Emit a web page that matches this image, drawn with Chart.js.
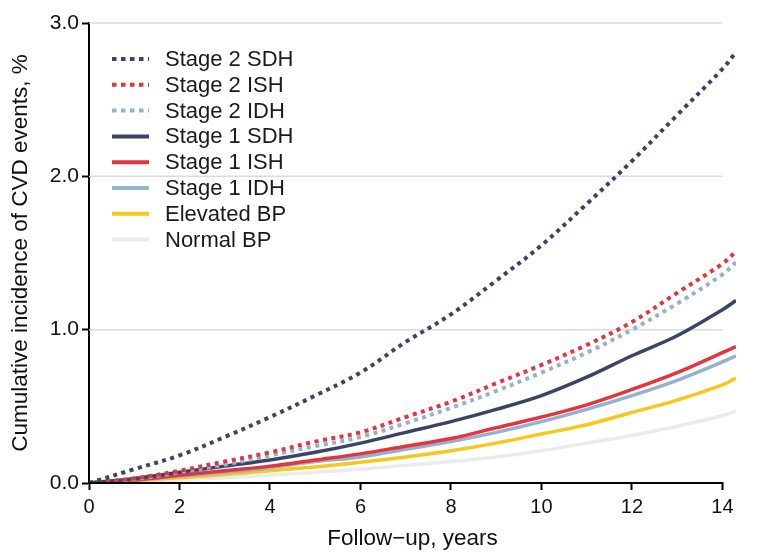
<!DOCTYPE html>
<html>
<head>
<meta charset="utf-8">
<script src="https://cdn.jsdelivr.net/npm/chart.js@4.4.0/dist/chart.umd.min.js"></script>
<style>
  html, body { margin: 0; padding: 0; background: #fff; }
  #wrap { width: 762px; height: 552px; }
</style>
</head>
<body>
<div id="wrap"><canvas id="chart-cvd" width="762" height="552"></canvas></div>
<script>
// follow-up years (last point runs a little past the 14-year tick)
const years = [0, 1, 2, 3, 4, 5, 6, 7, 8, 9, 10, 11, 12, 13, 14, 14.3];
const xTicks = [0, 2, 4, 6, 8, 10, 12, 14];
const yTicks = [0, 1, 2, 3];

const stage2SDH = [0, 0.09, 0.18, 0.3, 0.43, 0.57, 0.72, 0.92, 1.1, 1.32, 1.55, 1.82, 2.1, 2.4, 2.7, 2.81];
const stage2ISH = [0, 0.03, 0.08, 0.14, 0.2, 0.27, 0.33, 0.43, 0.53, 0.65, 0.77, 0.9, 1.05, 1.24, 1.43, 1.51];
const stage2IDH = [0, 0.025, 0.07, 0.12, 0.18, 0.24, 0.3, 0.39, 0.49, 0.6, 0.72, 0.85, 1.0, 1.17, 1.36, 1.44];
const stage1SDH = [0, 0.03, 0.07, 0.11, 0.15, 0.2, 0.26, 0.33, 0.4, 0.48, 0.57, 0.69, 0.83, 0.96, 1.13, 1.19];
const stage1ISH = [0, 0.02, 0.05, 0.08, 0.11, 0.15, 0.19, 0.24, 0.29, 0.36, 0.43, 0.51, 0.61, 0.72, 0.85, 0.89];
const stage1IDH = [0, 0.018, 0.045, 0.07, 0.1, 0.14, 0.17, 0.22, 0.27, 0.33, 0.4, 0.48, 0.57, 0.67, 0.79, 0.83];
const elevatedBP = [0, 0.015, 0.035, 0.055, 0.08, 0.105, 0.135, 0.17, 0.21, 0.26, 0.32, 0.38, 0.46, 0.54, 0.64, 0.685];
const normalBP = [0, 0.01, 0.02, 0.035, 0.05, 0.07, 0.09, 0.115, 0.14, 0.17, 0.21, 0.26, 0.31, 0.37, 0.44, 0.47];

const NAVY = '#3b4467';
const RED = '#e6343c';
const LIGHTBLUE = '#92b2d0';
const YELLOW = '#f6c81e';
const GRAY = '#ebebeb';
const FONT = '"Liberation Sans", Arial, sans-serif';

function series(label, values, color, dotted) {
  return {
    label: label,
    data: years.map((x, i) => ({ x: x, y: values[i] })),
    borderColor: color,
    backgroundColor: color,
    borderWidth: dotted ? 4 : 3.5,
    borderDash: dotted ? [4, 4.5] : [],
    borderCapStyle: 'butt',
    pointRadius: 0,
    tension: 0.35,
    dotted: dotted
  };
}

// gridlines and x axis line stop at the 14-year tick, curves run past it
const axisLines = {
  id: 'axisLines',
  beforeDatasetsDraw(chart) {
    const ctx = chart.ctx;
    const xs = chart.scales.x, ys = chart.scales.y;
    const x0 = xs.getPixelForValue(0), x14 = xs.getPixelForValue(14);
    ctx.save();
    ctx.strokeStyle = '#d9dbe2';
    ctx.lineWidth = 1.5;
    yTicks.slice(1).forEach(v => {
      const y = ys.getPixelForValue(v);
      ctx.beginPath();
      ctx.moveTo(x0, y);
      ctx.lineTo(x14, y);
      ctx.stroke();
    });
    ctx.restore();
  },
  afterDatasetsDraw(chart) {
    const ctx = chart.ctx;
    const xs = chart.scales.x, ys = chart.scales.y;
    const y0 = ys.getPixelForValue(0);
    ctx.save();
    ctx.strokeStyle = '#000';
    ctx.lineWidth = 2;
    ctx.beginPath();
    ctx.moveTo(xs.getPixelForValue(0) - 1, y0);
    ctx.lineTo(xs.getPixelForValue(14) + 1, y0);
    ctx.stroke();
    ctx.restore();
  }
};

// legend drawn inside the plot, top-left
const insideLegend = {
  id: 'insideLegend',
  afterDraw(chart) {
    const ctx = chart.ctx;
    const sets = chart.data.datasets;
    ctx.save();
    ctx.font = '22px ' + FONT;
    ctx.textBaseline = 'middle';
    sets.forEach((ds, i) => {
      const y = 59 + i * 25.8;
      ctx.beginPath();
      ctx.strokeStyle = ds.borderColor;
      ctx.lineWidth = 4;
      ctx.setLineDash(ds.dotted ? [4.5, 4.5] : []);
      ctx.moveTo(112, y);
      ctx.lineTo(149, y);
      ctx.stroke();
      ctx.setLineDash([]);
      ctx.fillStyle = '#1a1a1a';
      ctx.fillText(ds.label, 165, y + 1);
    });
    ctx.restore();
  }
};

const ctxCvd = document.getElementById('chart-cvd').getContext('2d');
new Chart(ctxCvd, {
  type: 'line',
  data: {
    datasets: [
      series('Stage 2 SDH', stage2SDH, NAVY, true),
      series('Stage 2 ISH', stage2ISH, RED, true),
      series('Stage 2 IDH', stage2IDH, LIGHTBLUE, true),
      series('Stage 1 SDH', stage1SDH, NAVY, false),
      series('Stage 1 ISH', stage1ISH, RED, false),
      series('Stage 1 IDH', stage1IDH, LIGHTBLUE, false),
      series('Elevated BP', elevatedBP, YELLOW, false),
      series('Normal BP', normalBP, GRAY, false)
    ]
  },
  options: {
    responsive: false,
    animation: false,
    layout: { padding: { left: 0, right: 26, top: 23, bottom: 0 } },
    plugins: {
      legend: { display: false },
      tooltip: { enabled: false }
    },
    scales: {
      x: {
        type: 'linear',
        min: 0,
        max: 14.3,
        afterFit: (scale) => { scale.height = 69; },
        afterBuildTicks: (scale) => { scale.ticks = xTicks.map(v => ({ value: v })); },
        border: { display: false },
        grid: { drawOnChartArea: false, tickColor: '#000', tickLength: 7, tickWidth: 2 },
        ticks: {
          color: '#111',
          padding: 5,
          maxRotation: 0,
          autoSkip: false,
          font: { family: FONT, size: 20 }
        },
        title: {
          display: true,
          text: 'Follow−up, years',
          color: '#111',
          padding: { top: 10, bottom: 0 },
          font: { family: FONT, size: 22.5 }
        }
      },
      y: {
        min: 0,
        max: 3,
        afterFit: (scale) => { scale.width = 89; },
        afterBuildTicks: (scale) => { scale.ticks = yTicks.map(v => ({ value: v })); },
        border: { color: '#000', width: 2 },
        grid: {
          drawOnChartArea: false,
          tickColor: '#000',
          tickLength: 7,
          tickWidth: 2
        },
        ticks: {
          color: '#111',
          padding: 3,
          callback: (v) => v.toFixed(1),
          font: { family: FONT, size: 21 }
        },
        title: {
          display: true,
          text: 'Cumulative incidence of CVD events, %',
          color: '#111',
          padding: { top: 7, bottom: 0 },
          font: { family: FONT, size: 22.5 }
        }
      }
    }
  },
  plugins: [axisLines, insideLegend]
});
</script>
</body>
</html>
